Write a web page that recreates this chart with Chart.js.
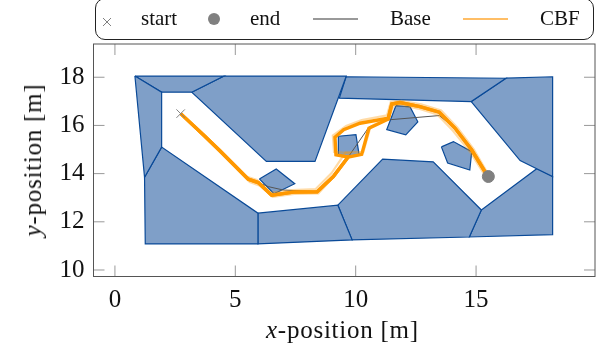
<!DOCTYPE html>
<html>
<head>
<meta charset="utf-8">
<script src="https://cdn.jsdelivr.net/npm/chart.js@4/dist/chart.umd.min.js"></script>
<style>
  html, body { margin: 0; padding: 0; background: #fff; }
  #wrap { position: relative; width: 605px; height: 351px; overflow: hidden; font-family: "Liberation Serif", serif; color: #111; }
  canvas { position: absolute; left: 0; top: 0; }
  #legendBox { position: absolute; left: 95px; top: -2px; width: 497px; height: 40px; border: 1px solid #222; border-radius: 10px; }
  .lbl { position: absolute; top: 5px; font-size: 21px; line-height: 26px; white-space: nowrap; }
  .key { position: absolute; }
  .axisTitle { position: absolute; font-size: 25px; line-height: 28px; letter-spacing: 0.75px; white-space: nowrap; }
</style>
</head>
<body>
<div id="wrap">
  <canvas id="myChart" width="605" height="351"></canvas>
  <div id="legendBox"></div>
  <span class="key" style="left:101px;top:14px;width:12px;height:12px">
    <svg width="12" height="12"><path d="M2 2L10 10M10 2L2 10" stroke="#808080" stroke-width="1"/></svg>
  </span>
  <span class="lbl" style="left:141px">start</span>
  <span class="key" style="left:208px;top:13px;width:12px;height:12px;border-radius:6px;background:#808080"></span>
  <span class="lbl" style="left:250px">end</span>
  <span class="key" style="left:313px;top:18px;width:45px;height:2px;background:#999"></span>
  <span class="lbl" style="left:390px">Base</span>
  <span class="key" style="left:463px;top:18px;width:45px;height:2px;background:#ffbe66"></span>
  <span class="lbl" style="left:540px">CBF</span>
  <div class="axisTitle" style="left:266px;top:316px"><i>x</i>-position [m]</div>
  <div class="axisTitle" style="left:33px;top:160px;transform:translate(-50%,-50%) rotate(-90deg)"><i>y</i>-position [m]</div>
</div>
<script>
const xTicks = [0, 5, 10, 15]
const yTicks = [10, 12, 14, 16, 18]

// obstacles, [x, y] in metres
const wallLeft = [[0.83, 18.05], [1.94, 17.38], [1.94, 15.10], [1.23, 13.85]]
const wallTopLeft = [[0.83, 18.05], [4.53, 18.05], [3.19, 17.38], [1.94, 17.38]]
const wallTopBig = [[4.53, 18.05], [9.61, 18.05], [8.31, 14.51], [6.29, 14.51], [3.19, 17.38]]
const wallLowerLeft = [[1.23, 13.85], [1.94, 15.10], [5.94, 12.36], [5.94, 11.08], [1.26, 11.08]]
const wallBottomMid = [[5.94, 12.36], [9.26, 12.69], [9.85, 11.25], [5.94, 11.08]]
const wallTopBar = [[9.60, 18.02], [16.24, 17.96], [14.80, 16.99], [9.32, 17.13]]
const wallRight = [[16.24, 17.96], [18.18, 18.02], [18.18, 13.88], [17.52, 14.20], [16.83, 14.54], [14.80, 16.99]]
const wallCentre = [[9.26, 12.69], [11.12, 14.60], [13.22, 14.49], [15.22, 12.49], [14.72, 11.37], [9.85, 11.25]]
const wallLowerRight = [[15.22, 12.49], [17.52, 14.20], [18.18, 13.88], [18.18, 11.47], [14.72, 11.37]]
const rockA = [[6.00, 13.78], [6.70, 14.19], [7.47, 13.58], [6.61, 13.16]]
const rockB = [[9.28, 15.55], [10.01, 15.62], [10.14, 14.80], [9.69, 14.71], [9.29, 14.78]]
const rockC = [[11.67, 16.82], [12.26, 16.77], [12.58, 16.15], [12.08, 15.61], [11.29, 15.83]]
const rockD = [[13.56, 15.11], [14.06, 15.33], [14.82, 14.91], [14.74, 14.15], [13.82, 14.44]]

const startPoint = [[2.73, 16.49]]
const endPoint = [[15.51, 13.88]]

const basePath = [[2.73, 16.49], [3.67, 15.61], [4.36, 14.95], [5.54, 13.77], [5.95, 13.63], [6.37, 13.46], [6.99, 13.32], [8.40, 13.25], [9.07, 13.88], [9.69, 14.69], [10.55, 15.93], [11.34, 16.23], [13.47, 16.41], [14.13, 15.88], [14.82, 14.98], [15.51, 13.88]]

const cbfLeft = [[2.73, 16.49], [3.67, 15.61], [4.36, 14.95], [5.54, 13.77], [5.95, 13.63], [6.51, 13.10], [7.41, 13.23], [8.40, 13.25], [9.07, 13.88], [9.69, 14.69], [9.18, 14.78], [9.14, 15.51], [9.50, 15.82], [10.18, 16.09], [11.35, 16.30], [11.50, 16.89], [11.84, 16.95], [12.67, 16.78], [13.47, 16.55], [14.13, 15.88], [14.82, 14.98], [15.37, 14.08], [15.51, 13.88]]
const cbfRight = [[2.73, 16.49], [3.67, 15.61], [4.36, 14.95], [5.54, 13.77], [5.95, 13.63], [6.51, 13.10], [7.41, 13.23], [8.40, 13.25], [9.07, 13.88], [9.69, 14.69], [10.25, 14.80], [10.55, 15.88], [11.35, 16.26], [11.50, 16.89], [11.84, 16.95], [12.67, 16.78], [13.47, 16.55], [14.13, 15.88], [14.82, 14.98], [15.37, 14.08], [15.51, 13.88]]
const cbfFaintA = [[2.73, 16.49], [3.72, 15.52], [4.42, 14.84], [5.60, 13.65], [6.02, 13.50], [6.55, 13.04], [7.45, 13.16], [8.45, 13.18], [9.16, 13.95], [9.75, 14.85], [9.10, 14.90], [9.05, 15.58], [9.60, 15.98], [10.25, 16.22], [11.30, 16.42], [11.46, 16.98], [11.90, 17.02], [12.72, 16.88], [13.55, 16.62], [14.22, 15.92], [14.90, 15.02], [15.42, 14.12], [15.51, 13.88]]
const cbfFaintB = [[2.73, 16.49], [3.60, 15.66], [4.30, 15.04], [5.46, 13.88], [5.90, 13.74], [6.46, 13.20], [7.36, 13.32], [8.34, 13.36], [9.00, 14.02], [9.58, 14.88], [10.32, 14.90], [10.62, 15.96], [11.40, 16.34], [11.56, 16.80], [11.80, 16.86], [12.60, 16.70], [13.38, 16.46], [14.04, 15.78], [14.74, 14.92], [15.30, 14.04], [15.51, 13.88]]

const line = (data, color, width) => ({
  data: data.map(([x, y]) => ({ x, y })),
  showLine: true,
  pointRadius: 0,
  borderColor: color,
  borderWidth: width,
  tension: 0,
  fill: false,
})

const obstacle = (points) => ({
  ...line([...points, points[0]], '#0a4a98', 1.2),
  fill: 'shape',
  backgroundColor: '#7f9fc8',
})

const marker = (data, style, radius, color) => ({
  ...line(data, color, 1),
  showLine: false,
  pointStyle: style,
  pointRadius: radius,
  pointBackgroundColor: color,
  pointBorderColor: color,
  pointBorderWidth: 1,
})

// first dataset ends up on top
const datasets = [
  marker(endPoint, 'circle', 6, '#808080'),
  marker(startPoint, 'crossRot', 6, '#808080'),
  line(cbfLeft, '#ff9800', 3.4),
  line(cbfRight, '#ff9800', 3.4),
  line(cbfFaintA, 'rgba(255,152,0,0.35)', 2.2),
  line(cbfFaintB, 'rgba(255,152,0,0.35)', 2.2),
  line(basePath, '#555555', 1),
  ...[rockA, rockB, rockC, rockD, wallLeft, wallTopLeft, wallTopBig, wallLowerLeft,
    wallBottomMid, wallTopBar, wallRight, wallCentre, wallLowerRight].map(obstacle),
]

const frame = {
  id: 'frame',
  afterDraw(chart) {
    const { ctx, chartArea: { left, right, top, bottom }, scales: { x, y } } = chart
    ctx.save()
    ctx.lineWidth = 1
    ctx.strokeStyle = '#999'
    ctx.beginPath()
    xTicks.forEach((v) => {
      const p = x.getPixelForValue(v)
      ctx.moveTo(p, bottom); ctx.lineTo(p, bottom - 11)
      ctx.moveTo(p, top); ctx.lineTo(p, top + 11)
    })
    yTicks.forEach((v) => {
      const p = y.getPixelForValue(v)
      ctx.moveTo(left, p); ctx.lineTo(left + 11, p)
      ctx.moveTo(right, p); ctx.lineTo(right - 11, p)
    })
    ctx.stroke()
    ctx.strokeStyle = '#555'
    ctx.strokeRect(left, top, right - left, bottom - top)
    ctx.restore()
  },
}

const axis = (min, max, tickValues, extra) => ({
  type: 'linear',
  min,
  max,
  afterBuildTicks: (scale) => { scale.ticks = tickValues.map((value) => ({ value })) },
  grid: { display: false, drawTicks: false },
  border: { display: false },
  ticks: {
    autoSkip: false,
    maxRotation: 0,
    color: '#111',
    font: { family: '"Liberation Serif", serif', size: 25 },
    padding: 9,
  },
  ...extra,
})

new Chart(document.getElementById('myChart').getContext('2d'), {
  type: 'scatter',
  data: { datasets },
  options: {
    responsive: false,
    animation: false,
    layout: { padding: { left: 0, right: 10, top: 44, bottom: 0 } },
    plugins: { legend: { display: false }, tooltip: { enabled: false } },
    scales: {
      x: axis(-0.89, 19.94, xTicks, { afterFit: (scale) => { scale.height = 74.5 } }),
      y: axis(9.73, 19.38, yTicks, { afterFit: (scale) => { scale.width = 93.5 } }),
    },
  },
  plugins: [frame],
})
</script>
</body>
</html>
